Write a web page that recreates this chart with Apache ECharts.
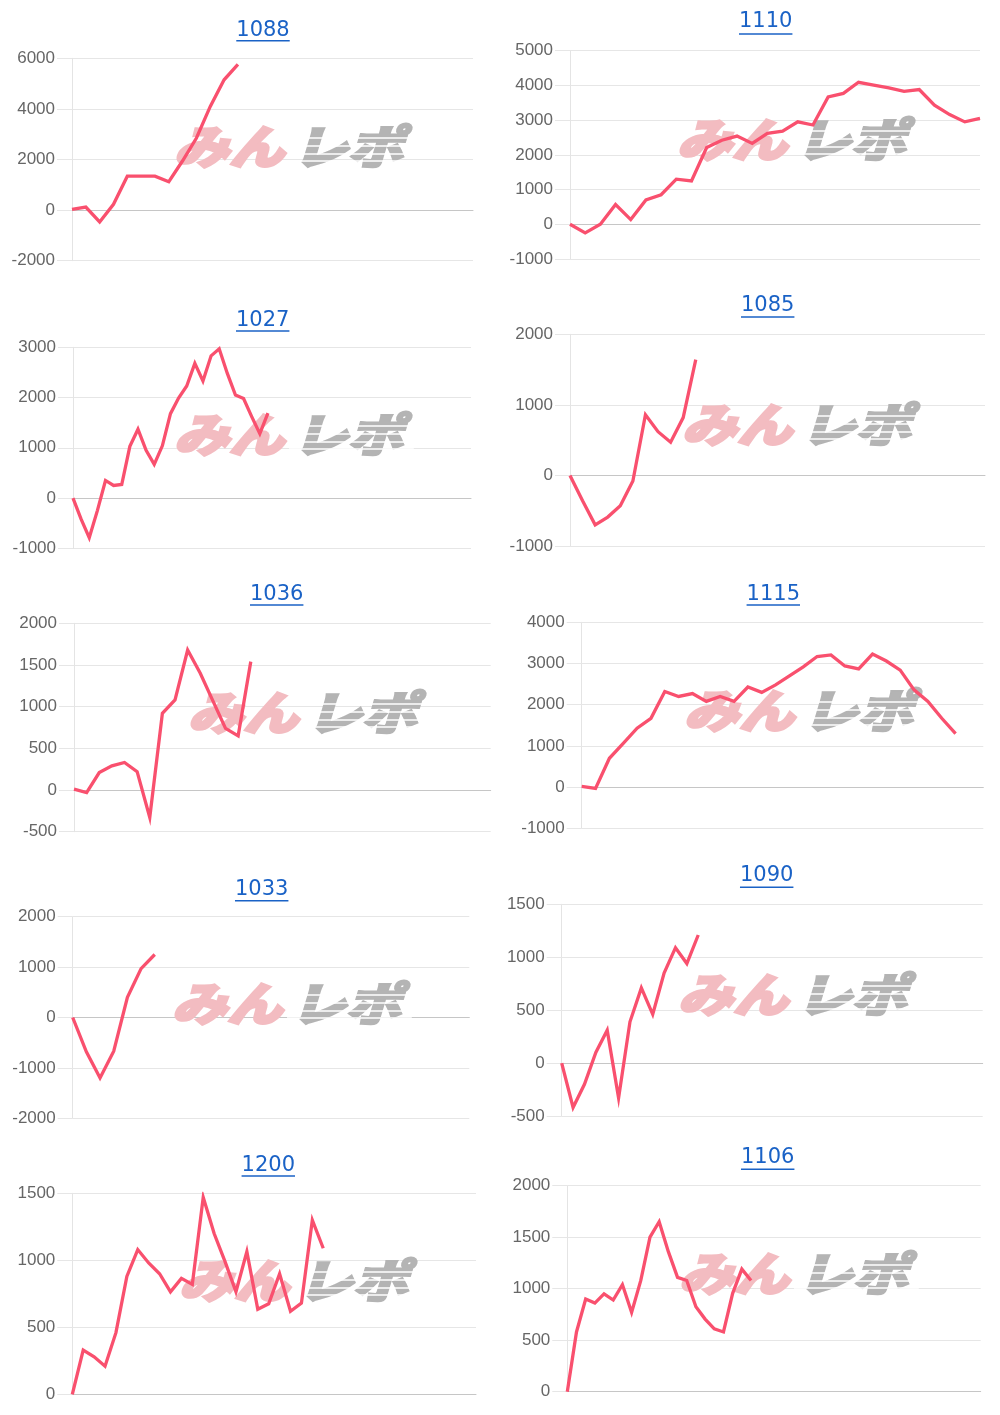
<!DOCTYPE html>
<html><head><meta charset="utf-8">
<script src="https://cdn.jsdelivr.net/npm/echarts@6.0.0/dist/echarts.min.js"></script>
<style>html,body{margin:0;padding:0;background:#fff}#c{width:1000px;height:1415px}</style>
</head><body><div id="c"></div>
<script>
// ---- data ----
const machineNames = ['1088','1110','1027','1085','1036','1115','1033','1090','1200','1106'];
const slotCounts = [30, 28, 50, 34, 34, 30, 30, 38, 38, 46];
const v1088 = [30, 120, -470, 230, 1340, 1340, 1340, 1120, 1950, 2850, 4100, 5150, 5760];
const v1110 = [0, -250, 0, 570, 135, 700, 850, 1300, 1250, 2210, 2420, 2540, 2330, 2620, 2680, 2950, 2860, 3670, 3770, 4090, 4010, 3930, 3830, 3880, 3430, 3160, 2950, 3050];
const v1027 = [0, -420, -790, -250, 350, 250, 270, 1030, 1370, 950, 670, 1040, 1680, 1990, 2230, 2680, 2330, 2830, 2970, 2480, 2050, 1980, 1620, 1280, 1690];
const v1085 = [0, -360, -700, -590, -430, -80, 860, 620, 470, 820, 1640];
const v1036 = [10, -30, 210, 290, 330, 220, -330, 920, 1080, 1680, 1400, 1070, 740, 650, 1540];
const v1115 = [20, -30, 700, 1060, 1430, 1670, 2320, 2200, 2270, 2080, 2200, 2080, 2430, 2300, 2480, 2700, 2920, 3170, 3210, 2940, 2870, 3230, 3060, 2840, 2360, 2080, 1670, 1300];
const v1033 = [0, -680, -1200, -670, 400, 970, 1250];
const v1090 = [0, -420, -200, 100, 310, -330, 390, 710, 460, 850, 1090, 940, 1210];
const v1200 = [0, 330, 280, 210, 460, 880, 1080, 980, 900, 765, 865, 820, 1470, 1200, 990, 765, 1065, 635, 675, 900, 620, 680, 1300, 1090];
const v1106 = [0, 580, 900, 860, 950, 890, 1040, 770, 1080, 1500, 1650, 1360, 1110, 1080, 825, 705, 610, 580, 955, 1190, 1080];
const seriesValues = [v1088, v1110, v1027, v1085, v1036, v1115, v1033, v1090, v1200, v1106];
const yMin  = [-2000, -1000, -1000, -1000, -500, -1000, -2000, -500, 0, 0];
const yMax  = [6000, 5000, 3000, 2000, 2000, 4000, 2000, 1500, 1500, 2000];
const yStep = [2000, 1000, 1000, 1000, 500, 1000, 1000, 500, 500, 500];
const watermarkLeft = 'みん';
const watermarkRight = 'レポ';

// ---- layout (pixels) ----
const gridBox = [
  [72, 58.3, 401, 202.4], [570, 50.7, 410, 208.3],
  [73, 347.3, 398, 201], [570, 334.3, 415, 211.7],
  [74, 623.3, 416.7, 208.4], [581.7, 622.3, 401.6, 206],
  [72.7, 916.7, 396.6, 201.6], [561.7, 904.3, 421, 211.7],
  [72.3, 1193.3, 403.7, 201], [567.3, 1185.7, 413.4, 206]
];
const titleBox = [
  [263, 31, 40.7], [765.7, 22, 34], [262.7, 320.5, 331], [767.7, 306, 317],
  [276.7, 595, 605], [773.3, 595, 605], [261.7, 890, 900.7], [766.7, 876, 887.3],
  [268.3, 1166, 1176], [767.7, 1157.5, 1169.3]
];
const wmBox = [
  [289, 147], [792, 140], [289, 435], [797, 425], [303, 713],
  [799, 711], [287, 1004], [793, 995], [294, 1281], [794, 1274]
];

const LINE = '#f9506e';
const TITLE = '#1a62c6';
const titleFont = "21px 'DejaVu Sans'";
const wmFont = "italic 900 46px 'Noto Sans CJK JP'";
const WM_PINK = '#f3bcc1';
const WM_GRAY = '#b4b4b4';
const meas = document.createElement('canvas').getContext('2d');

const grid = [], xAxis = [], yAxis = [], series = [], graphic = [];
machineNames.forEach((name, i) => {
  const g = gridBox[i];
  grid.push({left: g[0], top: g[1], width: g[2], height: g[3], containLabel: false, outerBoundsMode: 'none'});
  const cats = [];
  for (let k = 0; k < slotCounts[i]; k++) cats.push(String(k + 1));
  xAxis.push({
    type: 'category', gridIndex: i, data: cats, boundaryGap: false,
    axisLabel: {show: false}, axisTick: {show: false}, splitLine: {show: false},
    axisLine: {show: true, onZero: true, lineStyle: {color: '#c6c6c6', width: 1}}
  });
  yAxis.push({
    type: 'value', gridIndex: i, min: yMin[i], max: yMax[i], interval: yStep[i],
    axisLine: {show: true, lineStyle: {color: '#e4e4e4', width: 1}},
    axisTick: {show: true, length: 15, lineStyle: {color: '#e6e6e6'}},
    splitLine: {show: true, lineStyle: {color: '#e6e6e6', width: 1}},
    axisLabel: {show: true, margin: 17, color: '#666', fontSize: 17, fontFamily: 'Liberation Sans',
      formatter: v => String(v)}
  });
  series.push({
    type: 'line', xAxisIndex: i, yAxisIndex: i, data: seriesValues[i],
    symbol: 'none', showSymbol: false, smooth: false, z: 5, silent: true,
    lineStyle: {color: LINE, width: 3.3, join: 'miter', cap: 'butt'}
  });
  const t = titleBox[i];
  meas.font = titleFont;
  const tw = meas.measureText(name).width;
  graphic.push({type: 'text', z: 10, style: {text: name, x: t[0], y: t[1], textAlign: 'center', textVerticalAlign: 'middle', font: titleFont, fill: TITLE}});
  graphic.push({type: 'line', z: 10, shape: {x1: t[0] - tw / 2, y1: t[2], x2: t[0] + tw / 2, y2: t[2]}, style: {stroke: TITLE, lineWidth: 1.5}});
  const w = wmBox[i];
  const stripes = [-9, -1, 7, 14].map(dy => ({
    type: 'line', z: 2, shape: {x1: 0, y1: dy, x2: 104, y2: dy}, style: {stroke: '#fff', lineWidth: 1.6}
  }));
  graphic.push({
    type: 'group', x: w[0], y: w[1], scaleX: 1.2, z: 1,
    children: [
      {type: 'text', z: 1, style: {text: watermarkLeft, x: -4, y: 0, textAlign: 'right', textVerticalAlign: 'middle', font: wmFont, fill: WM_PINK, stroke: WM_PINK, lineWidth: 2.5}},
      {type: 'text', z: 1, style: {text: watermarkRight, x: 3, y: 0, textAlign: 'left', textVerticalAlign: 'middle', font: wmFont, fill: WM_GRAY, stroke: WM_GRAY, lineWidth: 2.5}}
    ].concat(stripes)
  });
});

const chart = echarts.init(document.getElementById('c'), null, {renderer: 'canvas'});
chart.setOption({animation: false, backgroundColor: '#fff', grid, xAxis, yAxis, series, graphic});
</script></body></html>
